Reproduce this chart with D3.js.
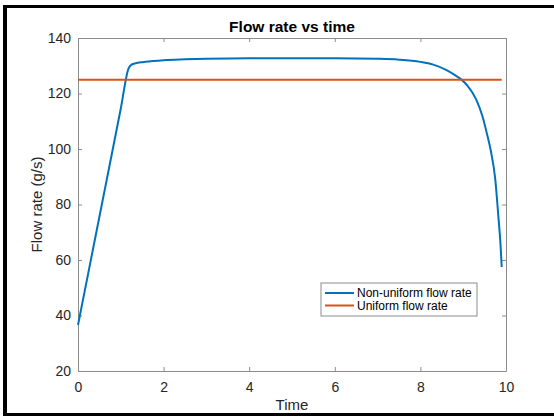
<!DOCTYPE html>
<html>
<head>
<meta charset="utf-8">
<script src="https://cdn.jsdelivr.net/npm/d3@7"></script>
<style>
  body { margin: 0; background: #fff; }
  text { font-family: "Liberation Sans", Arial, sans-serif; }
</style>
</head>
<body>
<script>
// values
const timeValues = [0, 0.5, 1.0, 1.18, 1.25, 1.35, 1.5, 1.75, 2, 2.5, 3, 4, 5, 6, 7, 7.5, 8, 8.3, 8.6, 8.8, 8.96, 9.1, 9.3, 9.45, 9.55, 9.65, 9.75, 9.82, 9.87, 9.9];
const flowValues = [36.6, 75.6, 114.6, 129, 130.4, 130.9, 131.3, 131.7, 132, 132.3, 132.5, 132.7, 132.7, 132.7, 132.5, 132.2, 131.4, 130.4, 128.5, 126.7, 125, 122.8, 118, 111.8, 105.8, 99, 89, 76, 66, 57.5];
const uniformTime = [0, 9.9];
const uniformFlow = [125, 125];
const xTicks = [0, 2, 4, 6, 8, 10];
const yTicks = [20, 40, 60, 80, 100, 120, 140];
const seriesNames = ['Non-uniform flow rate', 'Uniform flow rate'];
const seriesColors = ['#0072BD', '#D95319'];

const width = 554;
const height = 417;
const margin = { top: 38, right: 48, bottom: 46, left: 78 };

const svg = d3.select('body')
    .append('svg')
    .attr('width', width)
    .attr('height', height);

// document frame around the figure
svg.append('rect').attr('x', 3).attr('y', 5).attr('width', 4).attr('height', 411).attr('fill', '#000');
svg.append('rect').attr('x', 3).attr('y', 5).attr('width', 551).attr('height', 3).attr('fill', '#000');
svg.append('rect').attr('x', 3).attr('y', 413).attr('width', 551).attr('height', 3).attr('fill', '#000');

const x = d3.scaleLinear()
    .domain([0, 10])
    .range([margin.left, width - margin.right]);

const y = d3.scaleLinear()
    .domain([20, 140])
    .range([height - margin.bottom, margin.top]);

const axisColor = '#8c8c8c';
const labelColor = '#262626';

const styleAxis = (g) => {
    g.select('.domain').attr('stroke', axisColor);
    g.selectAll('.tick line').attr('stroke', axisColor);
    g.selectAll('.tick text')
        .attr('fill', labelColor)
        .style('font-size', '14px');
};

// bottom axis, ticks inward
svg.append('g')
    .attr('transform', `translate(0,${y.range()[0]})`)
    .call(d3.axisBottom(x).tickValues(xTicks).tickSizeInner(-4).tickSizeOuter(0).tickPadding(11))
    .call(styleAxis);

// top axis, no labels
svg.append('g')
    .attr('transform', `translate(0,${y.range()[1]})`)
    .call(d3.axisTop(x).tickValues(xTicks).tickSizeInner(-4).tickSizeOuter(0).tickFormat(''))
    .call(styleAxis);

// left axis
svg.append('g')
    .attr('transform', `translate(${x.range()[0]},0)`)
    .call(d3.axisLeft(y).tickValues(yTicks).tickSizeInner(-4).tickSizeOuter(0).tickPadding(7))
    .call(styleAxis);

// right axis, no labels
svg.append('g')
    .attr('transform', `translate(${x.range()[1]},0)`)
    .call(d3.axisRight(y).tickValues(yTicks).tickSizeInner(-4).tickSizeOuter(0).tickFormat(''))
    .call(styleAxis);

const line = d3.line()
    .x(d => x(d[0]))
    .y(d => y(d[1]))
    .curve(d3.curveMonotoneX);

svg.append('path')
    .datum(d3.zip(timeValues, flowValues))
    .attr('fill', 'none')
    .attr('stroke', seriesColors[0])
    .attr('stroke-width', 2)
    .attr('d', line);

svg.append('path')
    .datum(d3.zip(uniformTime, uniformFlow))
    .attr('fill', 'none')
    .attr('stroke', seriesColors[1])
    .attr('stroke-width', 2)
    .attr('d', line);

// title and axis labels
svg.append('text')
    .attr('x', (x.range()[0] + x.range()[1]) / 2)
    .attr('y', 32)
    .attr('text-anchor', 'middle')
    .attr('fill', '#000')
    .style('font-size', '15.5px')
    .style('font-weight', 'bold')
    .text('Flow rate vs time');

svg.append('text')
    .attr('x', (x.range()[0] + x.range()[1]) / 2)
    .attr('y', 410)
    .attr('text-anchor', 'middle')
    .attr('fill', labelColor)
    .style('font-size', '15px')
    .text('Time');

svg.append('text')
    .attr('transform', `translate(42,${(y.range()[0] + y.range()[1]) / 2}) rotate(-90)`)
    .attr('text-anchor', 'middle')
    .attr('fill', labelColor)
    .style('font-size', '15px')
    .text('Flow rate (g/s)');

// legend
const legend = svg.append('g')
    .attr('transform', 'translate(321,283)');

legend.append('rect')
    .attr('width', 156)
    .attr('height', 33)
    .attr('fill', '#fff')
    .attr('stroke', axisColor)
    .attr('stroke-width', 1);

const rows = legend.selectAll('g.row')
    .data(seriesNames)
    .join('g')
    .attr('class', 'row')
    .attr('transform', (d, i) => `translate(0,${10 + i * 12.5})`);

rows.append('line')
    .attr('x1', 4)
    .attr('x2', 33)
    .attr('stroke', (d, i) => seriesColors[i])
    .attr('stroke-width', 2);

rows.append('text')
    .attr('x', 36)
    .attr('y', 4)
    .attr('fill', '#000')
    .style('font-size', '12px')
    .text(d => d);
</script>
</body>
</html>
